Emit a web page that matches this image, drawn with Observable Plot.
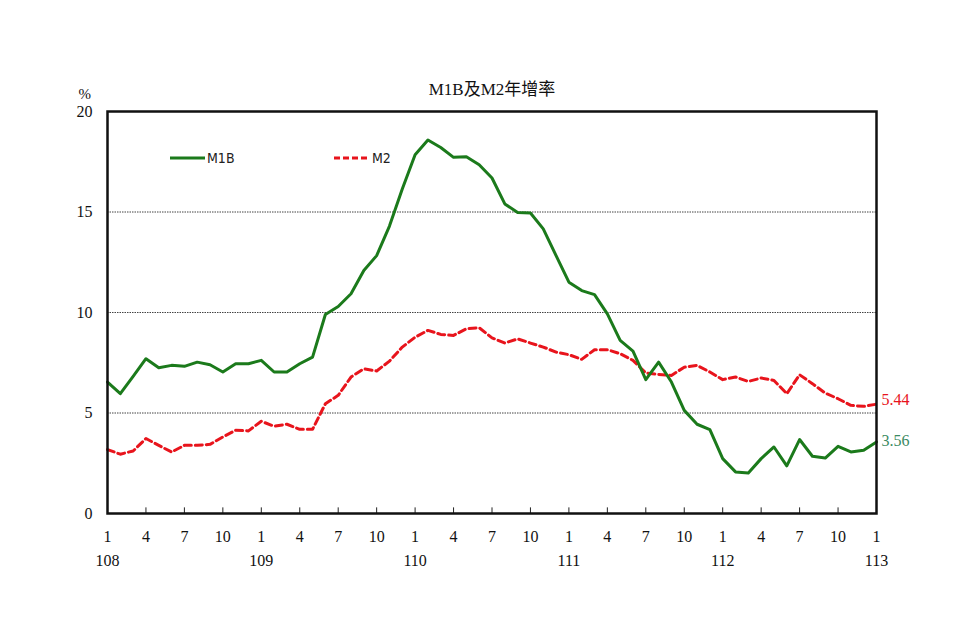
<!DOCTYPE html>
<html><head><meta charset="utf-8">
<script src="https://cdn.jsdelivr.net/npm/d3@7"></script>
<script src="https://cdn.jsdelivr.net/npm/@observablehq/plot@0.6"></script>
<style>
html,body{margin:0;padding:0;background:#fff;}
#chart{position:relative;width:960px;height:640px;}
</style></head>
<body><div id="chart"></div>
<script>
// Monthly index 0..60 : 108/1 .. 113/1
const months = d3.range(61).map(i => (i % 12) + 1);
const m1b = [6.54,5.96,6.82,7.70,7.25,7.37,7.32,7.53,7.40,7.04,7.45,7.45,7.62,7.04,7.04,7.45,7.78,9.90,10.30,10.93,12.09,12.83,14.30,16.14,17.85,18.58,18.21,17.72,17.75,17.35,16.69,15.40,14.98,14.95,14.16,12.83,11.51,11.09,10.89,9.93,8.61,8.08,6.66,7.53,6.54,5.13,4.44,4.17,2.73,2.07,2.02,2.73,3.31,2.37,3.68,2.85,2.76,3.34,3.06,3.15,3.56];
const m2 = [3.18,2.95,3.11,3.73,3.39,3.06,3.39,3.39,3.44,3.81,4.14,4.11,4.59,4.34,4.44,4.19,4.19,5.46,5.88,6.79,7.20,7.09,7.58,8.28,8.77,9.11,8.91,8.86,9.19,9.24,8.74,8.48,8.69,8.48,8.28,8.03,7.90,7.67,8.15,8.15,7.95,7.62,6.99,6.92,6.87,7.28,7.37,7.04,6.66,6.79,6.57,6.74,6.62,5.96,6.90,6.46,5.99,5.71,5.38,5.33,5.44];
const yearLabels = ["108","109","110","111","112","113"];
const yTicks = [0,5,10,15,20];
const gridValues = [5,10,15];
const title = "M1B及M2年增率";

const monthTicks = d3.range(0, 61, 3);
const yearTicks = d3.range(0, 61, 12);
const dataM1B = m1b.map((v,i)=>({i, v}));
const dataM2 = m2.map((v,i)=>({i, v}));
const serif = "'Liberation Serif','Times New Roman',serif";
const green = "#1b7a1b", red = "#e8141c";

const plot = Plot.plot({
  width: 960, height: 640,
  marginLeft: 107, marginRight: 84, marginTop: 111, marginBottom: 127,
  style: {fontFamily: serif, fontSize: "16px", background: "#fff", color: "#111"},
  x: {type: "linear", domain: [0, 60]},
  y: {domain: [0, 20]},
  marks: [
    Plot.ruleY(gridValues, {stroke: "#444", strokeWidth: 1, strokeDasharray: "1.5,1"}),
    Plot.axisY(yTicks, {tickSize: 0, tickPadding: 15, fontSize: 16, label: null}),
    Plot.axisX(monthTicks, {tickSize: 0, tickPadding: 17, fontSize: 16, label: null,
      tickFormat: d => months[d]}),
    Plot.axisX(yearTicks, {tickSize: 0, tickPadding: 41, fontSize: 16, label: null,
      tickFormat: d => yearLabels[d / 12]}),
    Plot.ruleX(monthTicks, {x: d => d, y1: 0, y2: 0.28, stroke: "#222", strokeWidth: 1}),
    Plot.line(dataM2, {x: "i", y: "v", stroke: red, strokeWidth: 3, strokeDasharray: "7,4"}),
    Plot.line(dataM1B, {x: "i", y: "v", stroke: green, strokeWidth: 3}),
    Plot.text([dataM2[60]], {x: "i", y: "v", text: d => d.v.toFixed(2), dx: 5, dy: -4, textAnchor: "start", fill: red, fontSize: 16}),
    Plot.text([dataM1B[60]], {x: "i", y: "v", text: d => d.v.toFixed(2), dx: 5, dy: -1, textAnchor: "start", fill: "#3a8a62", fontSize: 16}),
    Plot.frame({stroke: "#111", strokeWidth: 2.5}),
    Plot.text([title], {frameAnchor: "top", dy: -29, fontSize: 17, fill: "#111",
      fontFamily: "'Liberation Serif','Noto Sans CJK TC',serif"}),
    Plot.text(["%"], {frameAnchor: "top-left", dx: -29, dy: -23, fontSize: 15, fill: "#111"})
  ]
});
document.getElementById("chart").appendChild(plot);

// Legend drawn inside the plot area
const svg = d3.select(plot);
const lg = svg.append("g")
  .attr("font-family", "'Liberation Sans Narrow','DejaVu Sans Condensed',sans-serif")
  .attr("font-size", 14).attr("fill", "#222").attr("text-anchor", "start");
lg.append("line").attr("x1", 170).attr("x2", 205).attr("y1", 158).attr("y2", 158).attr("stroke", green).attr("stroke-width", 3);
lg.append("text").attr("x", 207).attr("y", 163).attr("text-anchor", "start").text("M1B");
lg.append("line").attr("x1", 334).attr("x2", 370).attr("y1", 158).attr("y2", 158).attr("stroke", red).attr("stroke-width", 3).attr("stroke-dasharray", "6,3");
lg.append("text").attr("x", 372).attr("y", 163).attr("text-anchor", "start").text("M2");
</script></body></html>
